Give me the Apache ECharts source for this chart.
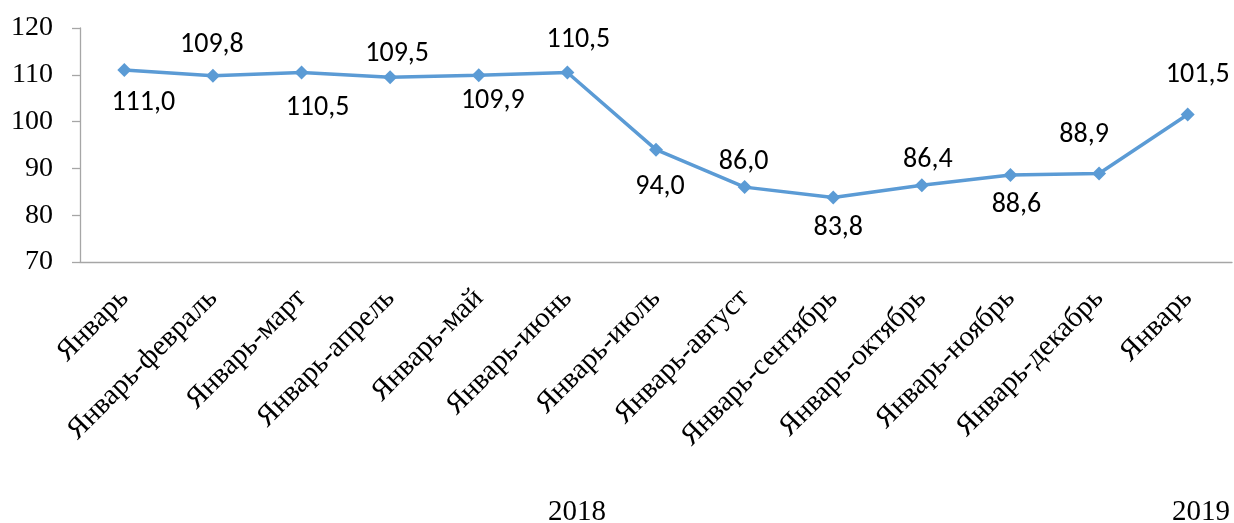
<!DOCTYPE html>
<html><head><meta charset="utf-8">
<script src="https://cdn.jsdelivr.net/npm/echarts@6/dist/echarts.min.js"></script>
<style>html,body{margin:0;padding:0;background:#fff}#c{width:1234px;height:523px}</style>
</head><body><div id="c"></div>
<script>
const categories = ['Январь','Январь-февраль','Январь-март','Январь-апрель','Январь-май','Январь-июнь','Январь-июль','Январь-август','Январь-сентябрь','Январь-октябрь','Январь-ноябрь','Январь-декабрь','Январь'];
const values = [111.0,109.8,110.5,109.5,109.9,110.5,94.0,86.0,83.8,86.4,88.6,88.9,101.5];
const yTicks = [70,80,90,100,110,120];
const years = ['2018','2019'];

// label placement (style only)
const labelPos = ['bottom','top','bottom','top','bottom','top','bottom','top','bottom','top','bottom','top','top'];
const labelDx = [19,-1,16,7,14,11,4,-1,5,6,6,-15,10];
const labelDist = [11.5,9.5,14.5,2.5,4.5,11.5,16.5,4.5,9.5,4.5,9.5,17.5,18.5];

const chart = echarts.init(document.getElementById('c'));
const serif = '"Liberation Serif","Times New Roman",serif';
chart.setOption({
  animation:false,
  grid:{left:80,right:2,top:28,bottom:261,containLabel:false},
  xAxis:{type:'category',data:categories,boundaryGap:true,
    axisLine:{lineStyle:{color:'#a6a6a6',width:1.3}},
    axisTick:{length:8,lineStyle:{color:'#a6a6a6',width:1.3}},
    axisLabel:{rotate:45,interval:0,margin:32,color:'#000',fontSize:29,fontFamily:serif}},
  yAxis:{type:'value',min:yTicks[0],max:yTicks[yTicks.length-1],interval:10,
    axisLine:{show:true,lineStyle:{color:'#a6a6a6',width:1.3}},
    axisTick:{show:true,length:8,lineStyle:{color:'#a6a6a6',width:1.3}},
    splitLine:{show:false},
    axisLabel:{margin:27,color:'#000',fontSize:28,fontFamily:serif}},
  series:[{type:'line',data:values.map((v,i)=>({value:v,label:{position:labelPos[i],offset:[labelDx[i],0],distance:labelDist[i]}})),
    symbol:'diamond',symbolSize:14,
    lineStyle:{color:'#5b9bd5',width:3.5},
    itemStyle:{color:'#5b9bd5'},
    label:{show:true,color:'#000',fontSize:28,fontFamily:'Carlito,"Liberation Sans","Noto Sans",sans-serif',
      formatter:p=>p.value.toFixed(1).replace('.',',')}}],
  graphic:[
    {type:'text',left:548,top:498,style:{text:years[0],font:'29px '+serif,fill:'#000'}},
    {type:'text',left:1172,top:498,style:{text:years[1],font:'29px '+serif,fill:'#000'}}
  ]
});
</script></body></html>
